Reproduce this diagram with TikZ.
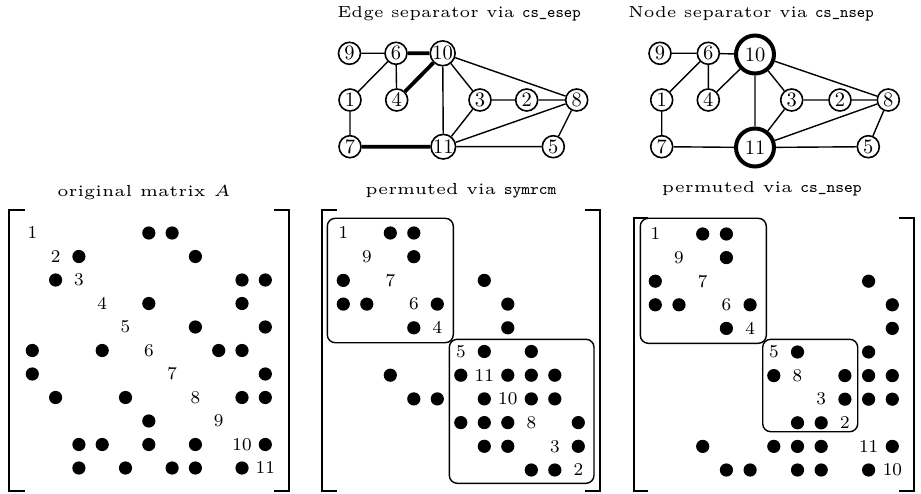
\documentclass[tikz,border=0pt]{standalone}
\usepackage{graphicx}

% text helpers: small-size faces, scaled up
\newcommand\gl[1]{\scalebox{2.05}{\fontsize{10}{12}\selectfont #1}}
\newcommand\ml[1]{\scalebox{2.25}{\fontsize{8}{9}\selectfont #1}}
\newcommand\ttl[1]{\scalebox{3.3}[3.2]{\fontsize{5}{6}\selectfont #1}}
\newcommand\gttl[1]{\scalebox{3.15}[3.2]{\fontsize{5}{6}\selectfont #1}}

% edges of the graph (symmetric sparsity pattern)
\def\edgelist{9/6,6/10,6/1,6/4,10/4,10/3,10/11,10/8,3/2,2/8,3/11,11/8,8/5,11/5,1/7,7/11}

% #1 prefix, #2 x0, #3 y0, #4 dx, #5 dy, #6 ordering
\newcommand\spymatrix[6]{%
  \foreach \v [count=\p] in {#6} {\expandafter\xdef\csname #1pos\v\endcsname{\p}}
  \foreach \v [count=\p] in {#6} {\node[mlab] (#1-\v) at ({#2+(\p-1)*#4},{#3+(\p-1)*#5}) {\ml{\v}};}
  \foreach \a/\b in \edgelist {
    \edef\pa{\csname #1pos\a\endcsname}\edef\pb{\csname #1pos\b\endcsname}
    \fill ({#2+(\pa-1)*#4},{#3+(\pb-1)*#5}) circle[radius=6.6];
    \fill ({#2+(\pb-1)*#4},{#3+(\pa-1)*#5}) circle[radius=6.6];
  }
}

\begin{document}
\begin{tikzpicture}[x=1pt,y=-1pt,
  gnode/.style={circle,draw,line width=1.6pt,minimum size=22pt,inner sep=0pt},
  sepnode/.style={gnode,line width=4pt,minimum size=38pt},
  gedge/.style={line width=1.4pt},
  cutedge/.style={line width=3.8pt},
  mlab/.style={inner sep=0pt},
  title/.style={inner sep=0pt,anchor=base},
  bracket/.style={line width=2pt},
  block/.style={draw,line width=1.4pt,rounded corners=8pt}
]
\useasboundingbox (0,0) rectangle (921,494);

% ---------- graph with edge separator ----------
\node[title] (t1) at (459,18) {\gttl{Edge separator via \texttt{cs\_esep}}};
\begin{scope}[every node/.style={gnode}]
\node (e9)  at (349.5,53.3) {\gl{9}};
\node (e6)  at (396,53.3)   {\gl{6}};
\node (e10) at (442.7,53.3) {\gl{10}};
\node (e1)  at (350,100)    {\gl{1}};
\node (e4)  at (396.7,100)  {\gl{4}};
\node (e3)  at (480,100)    {\gl{3}};
\node (e2)  at (526.7,100)  {\gl{2}};
\node (e8)  at (576.7,100)  {\gl{8}};
\node (e7)  at (350,146.7)  {\gl{7}};
\node (e11) at (443.3,146.7){\gl{11}};
\node (e5)  at (553.3,146.7){\gl{5}};
\end{scope}
\draw[gedge] (e9)--(e6) (e6)--(e1) (e6)--(e4) (e10)--(e3) (e10)--(e11)
  (e10)--(e8) (e3)--(e2) (e2)--(e8) (e3)--(e11) (e11)--(e8) (e8)--(e5)
  (e11)--(e5) (e1)--(e7);
\draw[cutedge] (e6)--(e10) (e10)--(e4) (e7)--(e11);

% ---------- graph with node separator ----------
\node[title] (t2) at (751,18) {\gttl{Node separator via \texttt{cs\_nsep}}};
\begin{scope}[every node/.style={gnode}]
\node (n9)  at (660,53.3)   {\gl{9}};
\node (n6)  at (708.3,53.3) {\gl{6}};
\node[sepnode] (n10) at (755,54.5) {\gl{10}};
\node (n1)  at (661.7,100)  {\gl{1}};
\node (n4)  at (708.3,100)  {\gl{4}};
\node (n3)  at (791.7,100)  {\gl{3}};
\node (n2)  at (840,100)    {\gl{2}};
\node (n8)  at (888.3,100)  {\gl{8}};
\node (n7)  at (661.7,146.7){\gl{7}};
\node[sepnode] (n11) at (755,147.5) {\gl{11}};
\node (n5)  at (868.3,146.7){\gl{5}};
\end{scope}
\draw[gedge] (n9)--(n6) (n6)--(n10) (n6)--(n1) (n6)--(n4) (n10)--(n4)
  (n10)--(n3) (n10)--(n11) (n10)--(n8) (n3)--(n2) (n2)--(n8) (n3)--(n11)
  (n11)--(n8) (n8)--(n5) (n11)--(n5) (n1)--(n7) (n7)--(n11);

% ---------- original matrix ----------
\node[title] (t3) at (144,196.7) {\ttl{original matrix $A$}};
\draw[bracket] (25,210) -- (8.5,210) -- (8.5,491) -- (25,491);
\draw[bracket] (274,210) -- (289,210) -- (289,491) -- (274,491);
\spymatrix{A}{32.3}{233}{23.3}{23.5}{1,2,3,4,5,6,7,8,9,10,11}

% ---------- reverse Cuthill-McKee ordering ----------
\node[title] (t4) at (460.8,195) {\ttl{permuted via \texttt{symrcm}}};
\draw[bracket] (336.7,210) -- (321.7,210) -- (321.7,491) -- (336.7,491);
\draw[bracket] (585,210) -- (600,210) -- (600,491) -- (585,491);
\draw[block] (327.3,218.3) rectangle (453.3,342.7);
\draw[block] (449.3,339.3) rectangle (594,483.3);
\spymatrix{B}{343.3}{233}{23.5}{23.7}{1,9,7,6,4,5,11,10,8,3,2}

% ---------- node-separator ordering ----------
\node[title] (t5) at (761.8,192.7) {\ttl{permuted via \texttt{cs\_nsep}}};
\draw[bracket] (647.7,218.3) -- (634.3,218.3) -- (634.3,490.7) -- (647.7,490.7);
\draw[bracket] (899.3,218.3) -- (914.3,218.3) -- (914.3,490.7) -- (899.3,490.7);
\draw[block] (640.3,218.3) rectangle (766.3,343.3);
\draw[block] (762.7,339.3) rectangle (857.7,431.7);
\spymatrix{C}{655.3}{234}{23.7}{23.6}{1,9,7,6,4,5,8,3,2,11,10}

\end{tikzpicture}
\end{document}
